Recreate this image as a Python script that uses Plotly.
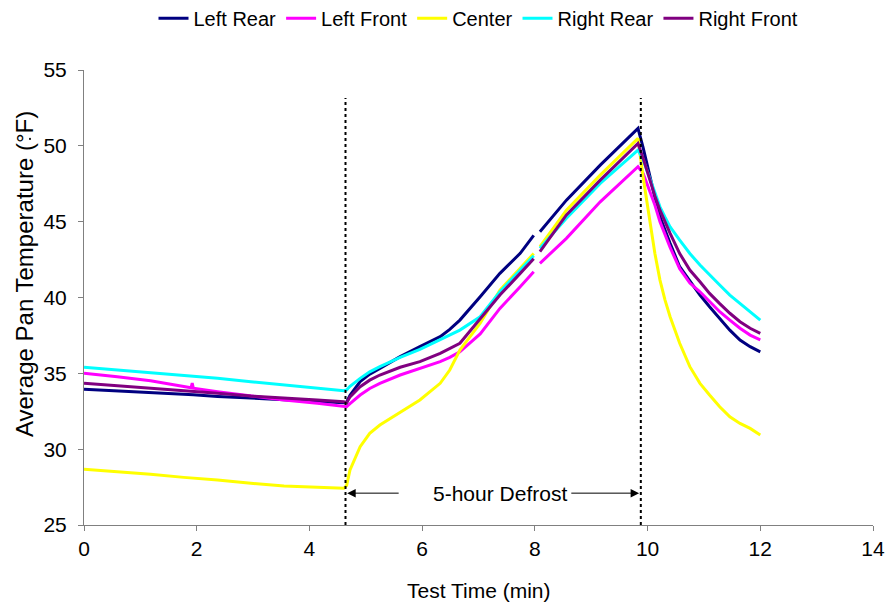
import plotly.graph_objects as go

# Test time (min) and average pan temperatures (°F) for each pan position
time_min = [0.00, 0.59, 1.18, 1.77, 1.90, 1.92, 1.94, 2.37, 2.96, 3.55, 4.14, 4.61,
            4.66, 4.72, 4.90, 5.07, 5.25, 5.61, 5.96, 6.32, 6.49, 6.67, 7.03, 7.38,
            7.74, 7.98, 8.03, 8.09, 8.56, 9.16, 9.83, 9.92, 10.04, 10.13, 10.22,
            10.31, 10.40, 10.57, 10.75, 10.93, 11.10, 11.28, 11.46, 11.64, 11.82, 12.00]

left_rear = [33.95, 33.85, 33.72, 33.62, 33.60, 33.59, 33.59, 33.48, 33.37, 33.24, 33.13, 33.06,
             33.10, 33.55, 34.45, 34.95, 35.33, 36.10, 36.76, 37.42, 37.90, 38.51, 40.05, 41.59,
             42.91, 44.10, None, 44.33, 46.42, 48.73, 51.15, 49.90, 47.96, 46.60, 45.32,
             44.40, 43.57, 42.03, 41.10, 40.16, 39.39, 38.63, 37.85, 37.20, 36.76, 36.42]

left_front = [35.00, 34.78, 34.51, 34.15, 34.05, 34.35, 34.02, 33.79, 33.50, 33.24, 33.02, 32.84,
              32.80, 33.00, 33.57, 34.00, 34.34, 34.89, 35.33, 35.77, 36.05, 36.42, 37.60, 39.28,
              40.71, 41.70, None, 42.25, 43.90, 46.31, 48.62, 48.20, 47.00, 46.10, 45.00,
              44.10, 43.30, 41.90, 40.95, 40.38, 39.72, 39.06, 38.51, 37.97, 37.52, 37.20]

center = [28.67, 28.51, 28.34, 28.14, 28.11, 28.10, 28.10, 27.97, 27.75, 27.57, 27.49, 27.42,
          27.60, 28.63, 30.16, 31.04, 31.59, 32.40, 33.24, 34.34, 35.22, 36.54, 38.30, 40.49,
          41.92, 42.90, None, 43.35, 45.76, 48.07, 50.49, 47.96, 45.10, 42.90, 41.15,
          39.83, 38.73, 36.98, 35.44, 34.34, 33.57, 32.80, 32.14, 31.70, 31.37, 30.93]

right_rear = [35.40, 35.22, 35.04, 34.87, 34.84, 34.83, 34.82, 34.67, 34.45, 34.23, 34.05, 33.85,
              33.90, 34.15, 34.67, 35.10, 35.44, 36.05, 36.58, 37.20, 37.50, 37.85, 38.73, 40.38,
              41.81, 42.75, None, 43.24, 45.22, 47.52, 49.72, 49.10, 47.85, 46.90, 45.98,
              45.30, 44.66, 43.79, 42.90, 42.14, 41.48, 40.82, 40.16, 39.60, 39.06, 38.51]

right_front = [34.34, 34.18, 34.03, 33.88, 33.85, 33.84, 33.83, 33.68, 33.50, 33.35, 33.24, 33.13,
               33.05, 33.45, 34.12, 34.55, 34.89, 35.40, 35.77, 36.32, 36.62, 36.98, 38.60, 40.16,
               41.59, 42.55, None, 43.02, 45.44, 47.74, 50.16, 49.20, 47.74, 46.70, 45.76,
               44.95, 44.23, 42.90, 41.81, 41.04, 40.27, 39.60, 38.96, 38.40, 37.97, 37.64]

series_names = ["Left Rear", "Left Front", "Center", "Right Rear", "Right Front"]
series_values = [left_rear, left_front, center, right_rear, right_front]
series_colors = ["#000080", "#FF00FF", "#FFFF00", "#00FFFF", "#800080"]

# Defrost window boundaries (min)
defrost_start = 4.64
defrost_end = 9.88

FONT = "Liberation Sans, Arial, sans-serif"

fig = go.Figure()
for name, vals, col in zip(series_names, series_values, series_colors):
    fig.add_trace(go.Scatter(x=time_min, y=vals, name=name, mode="lines",
                             line=dict(color=col, width=3), connectgaps=False))

for xv in (defrost_start, defrost_end):
    fig.add_shape(type="line", x0=xv, x1=xv, y0=25, y1=53.15, xref="x", yref="y",
                  line=dict(color="black", width=2, dash="dot"))

# Small stray dot beside the y-axis title
fig.add_shape(type="circle", xref="paper", yref="paper",
              x0=-0.0697, x1=-0.0672, y0=0.846, y1=0.851,
              line=dict(width=0), fillcolor="black")

arrow_y = 27.1
fig.add_annotation(x=defrost_start + 0.03, y=arrow_y, ax=5.61, ay=arrow_y,
                   xref="x", yref="y", axref="x", ayref="y", text="",
                   showarrow=True, arrowhead=2, arrowsize=1.7, arrowwidth=1, arrowcolor="black")
fig.add_annotation(x=defrost_end - 0.03, y=arrow_y, ax=8.62, ay=arrow_y,
                   xref="x", yref="y", axref="x", ayref="y", text="",
                   showarrow=True, arrowhead=2, arrowsize=1.7, arrowwidth=1, arrowcolor="black")
fig.add_annotation(x=7.38, y=arrow_y, xref="x", yref="y", text="5-hour Defrost",
                   showarrow=False, font=dict(size=21, color="black", family=FONT))

# Axis titles
fig.add_annotation(x=0.5, y=-0.143, xref="paper", yref="paper", text="Test Time (min)",
                   showarrow=False, xanchor="center", yanchor="middle",
                   font=dict(size=21, color="black", family=FONT))
fig.add_annotation(x=-0.0745, y=0.552, xref="paper", yref="paper",
                   text="Average Pan Temperature (°F)", textangle=-90,
                   showarrow=False, xanchor="center", yanchor="middle",
                   font=dict(size=24, color="black", family=FONT))

axis_common = dict(showline=True, linecolor="#808080", linewidth=1, showgrid=False,
                   zeroline=False, ticks="outside", ticklen=5, tickcolor="#808080",
                   tickfont=dict(size=21, color="black", family=FONT), mirror=False)

fig.update_xaxes(range=[0, 14], dtick=2, tick0=0, **axis_common)
fig.update_yaxes(range=[25, 55], dtick=5, tick0=25, ticklabelstandoff=7, **axis_common)

fig.update_layout(
    width=896, height=604,
    margin=dict(l=84, r=23, t=70, b=79, autoexpand=False),
    paper_bgcolor="white", plot_bgcolor="white",
    font=dict(family=FONT, size=20, color="black"),
    showlegend=True,
    legend=dict(orientation="h", x=0.5, xanchor="center", y=1.114, yanchor="middle",
                font=dict(size=20, family=FONT), itemwidth=30, tracegroupgap=0,
                bgcolor="rgba(0,0,0,0)"),
)

fig.write_html("out.html")
